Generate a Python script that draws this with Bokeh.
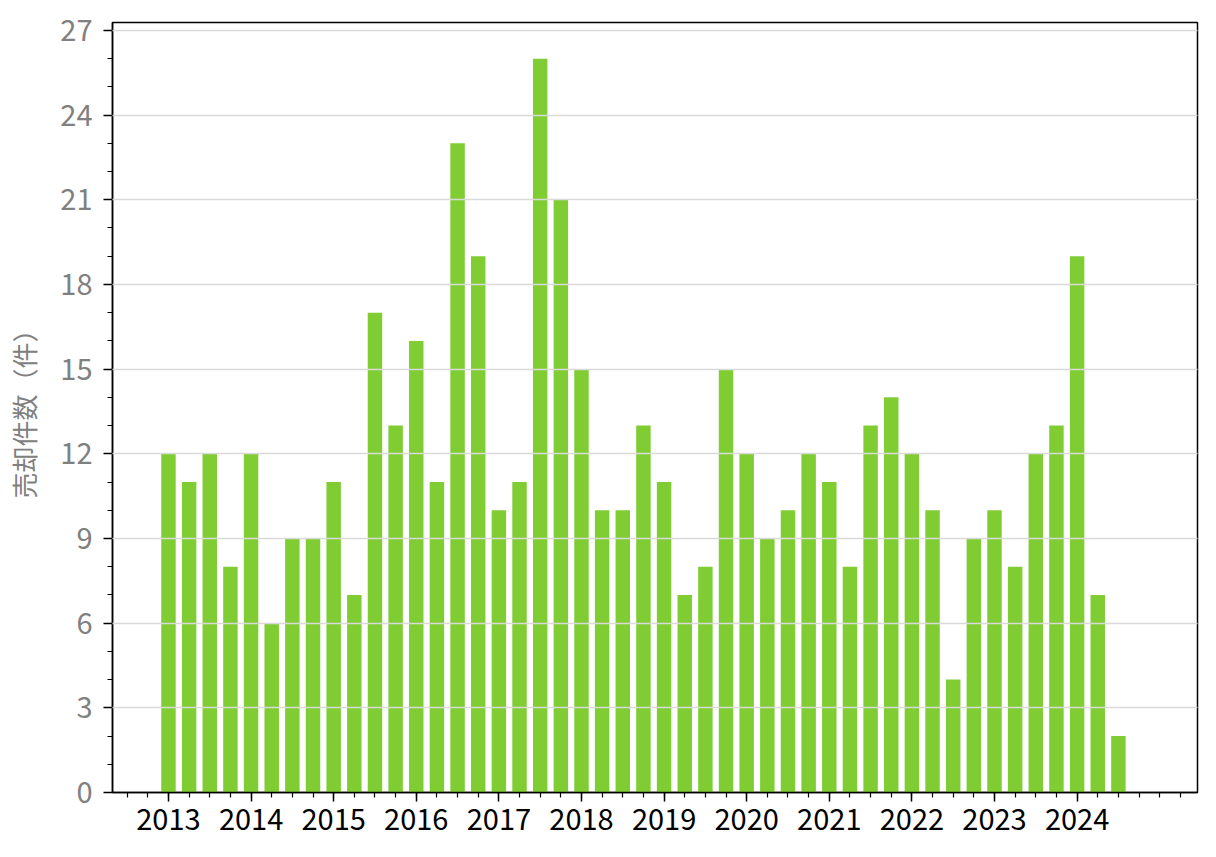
import numpy as np
from bokeh.plotting import figure
from bokeh.models import FixedTicker, Range1d, ColumnDataSource
from bokeh.embed import file_html
from bokeh.resources import INLINE

years = [str(y) for y in range(2013, 2025)]
quarters = ["2013Q1","2013Q2","2013Q3","2013Q4",
            "2014Q1","2014Q2","2014Q3","2014Q4",
            "2015Q1","2015Q2","2015Q3","2015Q4",
            "2016Q1","2016Q2","2016Q3","2016Q4",
            "2017Q1","2017Q2","2017Q3","2017Q4",
            "2018Q1","2018Q2","2018Q3","2018Q4",
            "2019Q1","2019Q2","2019Q3","2019Q4",
            "2020Q1","2020Q2","2020Q3","2020Q4",
            "2021Q1","2021Q2","2021Q3","2021Q4",
            "2022Q1","2022Q2","2022Q3","2022Q4",
            "2023Q1","2023Q2","2023Q3","2023Q4",
            "2024Q1","2024Q2","2024Q3"]
sales = [12, 11, 12, 8,
         12, 6, 9, 9,
         11, 7, 17, 13,
         16, 11, 23, 19,
         10, 11, 26, 21,
         15, 10, 10, 13,
         11, 7, 8, 15,
         12, 9, 10, 12,
         11, 8, 13, 14,
         12, 10, 4, 9,
         10, 8, 12, 13,
         19, 7, 2]
y_ticks = [0, 3, 6, 9, 12, 15, 18, 21, 24, 27]

# quarter index from 2013Q1
qidx = [(int(q[:4]) - 2013) * 4 + int(q[-1]) - 1 for q in quarters]
src = ColumnDataSource(dict(x=qidx, top=sales))

p = figure(frame_width=1085, frame_height=770, output_backend="svg",
           toolbar_location=None, min_border_left=112, min_border_top=22,
           min_border_right=11, min_border_bottom=50,
           x_range=Range1d(-2.71, 49.83), y_range=Range1d(0, 27.28))

p.vbar(x="x", top="top", width=0.70, source=src, color="#7FCC33", line_color=None)

year_ticks = [(int(y) - 2013) * 4 for y in years]
p.xaxis.ticker = FixedTicker(ticks=year_ticks, minor_ticks=list(range(-2, 50)))
p.xaxis.major_label_overrides = {t: y for t, y in zip(year_ticks, years)}
p.yaxis.ticker = FixedTicker(ticks=y_ticks, minor_ticks=list(range(0, 28)))

p.xgrid.visible = False
p.ygrid.grid_line_color = "#d9d9d9"
p.ygrid.grid_line_width = 1.5
p.ygrid.level = "overlay"

for ax in (p.xaxis[0], p.yaxis[0]):
    ax.axis_line_color = "black"
    ax.axis_line_width = 1.5
    ax.major_tick_line_color = "black"
    ax.minor_tick_line_color = "black"
    ax.major_tick_line_width = 1.5
    ax.minor_tick_line_width = 1.2
    ax.major_tick_in = 0
    ax.minor_tick_in = 0
    ax.major_tick_out = 9
    ax.minor_tick_out = 5
    ax.major_label_text_font = "Noto Sans CJK JP"
    ax.major_label_text_font_size = "29px"

p.xaxis.major_label_text_color = "black"
p.xaxis.major_label_standoff = 7
p.yaxis.major_label_text_color = "#808080"
p.yaxis.major_label_standoff = 11

p.yaxis.axis_label = "売却件数（件）"
p.yaxis.axis_label_text_font = "Noto Sans CJK JP"
p.yaxis.axis_label_text_font_size = "26px"
p.yaxis.axis_label_text_font_style = "normal"
p.yaxis.axis_label_text_color = "#808080"
p.yaxis.axis_label_standoff = 15

p.outline_line_color = "black"
p.outline_line_width = 1.5
p.outline_line_alpha = 1.0

open("out.html", "w").write(file_html(p, INLINE))
